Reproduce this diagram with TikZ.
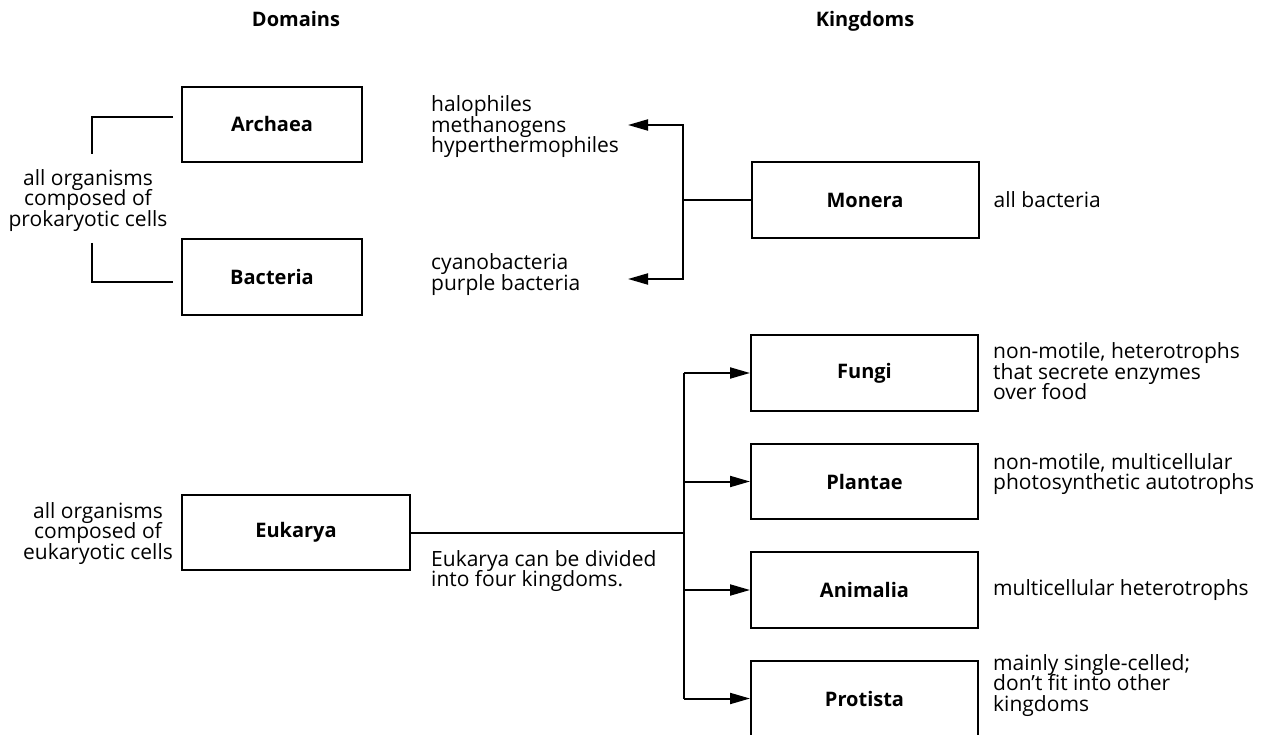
\documentclass[tikz,border=0pt]{standalone}
\usepackage{fontspec}
\setmainfont{Open Sans}
\usetikzlibrary{positioning,arrows.meta}

\newcommand\notefont{\fontsize{21}{20.5}\selectfont\lineskiplimit=-10pt\relax}

\tikzset{
  taxon/.style={draw, line width=2pt, minimum height=75.5pt, inner sep=0pt, font=\fontsize{20}{24}\selectfont\bfseries},
  domainbox/.style={taxon, minimum width=180pt},
  kingdombox/.style={taxon, minimum width=227pt},
  note/.style={inner sep=0pt, align=left, font=\notefont},
  heading/.style={anchor=base, inner sep=0pt, font=\fontsize{20}{24}\selectfont\bfseries},
  link/.style={line width=2pt},
  arrow/.style={link, -{Triangle[length=20pt,width=11pt]}},
}

\begin{document}
\begin{tikzpicture}[x=1pt, y=-1pt]
        \useasboundingbox[fill=white] (0,0) rectangle (1268,735);

        % column titles
        \node[heading] (domains) at (296,27) {Domains};
        \node[heading] (kingdoms) at (865,27) {Kingdoms};

        % domains
        \node[domainbox] (Archaea) at (272,124.5) {Archaea};
        \node[domainbox, below=75pt of Archaea] (Bacteria) {Bacteria};
        \node[taxon, minimum width=228pt] (Eukarya) at (296,532.5) {Eukarya};

        \node[note, align=center] (proknote) at (88,200.5) {all organisms\\composed of\\prokaryotic cells};
        \node[note, align=center] (euknote) at (98,533.5) {all organisms\\composed of\\eukaryotic cells};
        \node[note, right=68pt of Archaea, yshift=-2.5pt] (archlist) {halophiles\\methanogens\\hyperthermophiles};
        \node[note, right=68pt of Bacteria, yshift=2.5pt] (baclist) {cyanobacteria\\purple bacteria};
        \node[note, anchor=west] (eukdiv) at (431,571) {Eukarya can be divided\\into four kingdoms.};

        % kingdoms
        \node[kingdombox] (Monera) at (865,200) {Monera};
        \node[kingdombox] (Fungi) at (864.5,373) {Fungi};
        \node[kingdombox, below=31pt of Fungi] (Plantae) {Plantae};
        \node[kingdombox, below=31pt of Plantae] (Animalia) {Animalia};
        \node[kingdombox, below=31pt of Animalia] (Protista) {Protista};

        \node[note, right=14pt of Monera] (moneranote) {all bacteria};
        \node[note, right=14pt of Fungi, yshift=1.5pt] (funginote) {non-motile, heterotrophs\\that secrete enzymes\\over food};
        \node[note, right=14pt of Plantae, yshift=7.5pt] (plantaenote) {non-motile, multicellular\\photosynthetic autotrophs};
        \node[note, right=14pt of Animalia] (animalianote) {multicellular heterotrophs};
        \node[note, right=14pt of Protista, yshift=13pt] (protistanote) {mainly single-celled;\\don’t fit into other\\kingdoms};

        % brackets round the prokaryotes
        \draw[link] (173,117) -- (92,117) -- (92,154);
        \draw[link] (92,243) -- (92,282) -- (173,282);

        % Monera splits into two domains
        \coordinate (trunkM) at (683,200);
        \coordinate (archtip) at (628,125);
        \coordinate (bactip) at (628,279);
        \draw[link] (Monera) -- (trunkM);
        \draw[arrow] (trunkM) |- (archtip);
        \draw[arrow] (trunkM) |- (bactip);

        % Eukarya into four kingdoms
        \coordinate (trunkE) at (684,532.5);
        \draw[link] (Eukarya) -- (trunkE);
        \draw[link] (trunkE |- Fungi) -- (trunkE |- Protista);
        \draw[arrow] (trunkE |- Fungi) -- (Fungi);
        \draw[arrow] (trunkE |- Plantae) -- (Plantae);
        \draw[arrow] (trunkE |- Animalia) -- (Animalia);
        \draw[arrow] (trunkE |- Protista) -- (Protista);
\end{tikzpicture}
\end{document}
